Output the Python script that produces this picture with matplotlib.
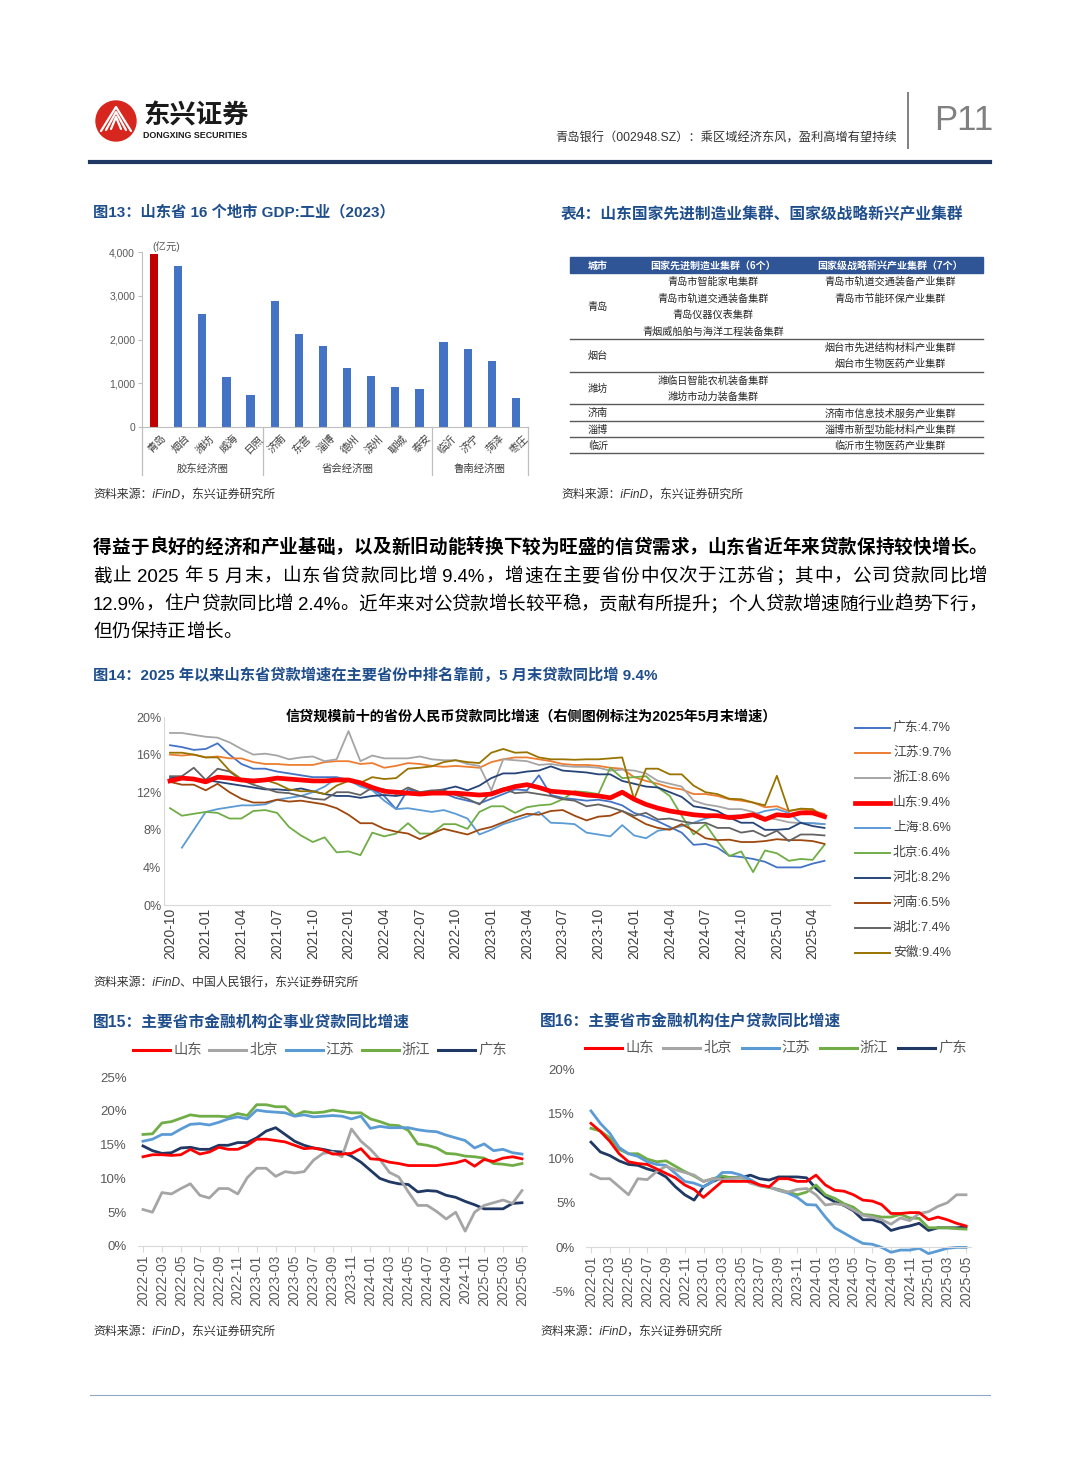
import numpy as np
import pandas as pd
import matplotlib
matplotlib.use('Agg')
import matplotlib.pyplot as plt
import matplotlib.transforms as mtrans
from matplotlib.font_manager import FontProperties
from matplotlib.patches import Rectangle, Circle, Polygon

plt.rcParams['font.family'] = ['Liberation Sans', 'Noto Sans CJK SC', 'DejaVu Sans']

nan = np.nan
# ---------------- Fig13 data ----------------
cities13 = ['青岛', '烟台', '潍坊', '威海', '日照', '济南', '东营', '淄博', '德州', '滨州', '聊城', '泰安',
            '临沂', '济宁', '菏泽', '枣庄']
gdp_industry = [3950, 3680, 2580, 1150, 740, 2880, 2130, 1850, 1360, 1160, 920, 870, 1950, 1780, 1500, 660]
groups13 = ['胶东经济圈', '省会经济圈', '鲁南经济圈']
group_sizes = [5, 7, 4]

# ---------------- Table 4 data ----------------
table_cols = ['城市', '国家先进制造业集群（6个）', '国家级战略新兴产业集群（7个）']
table_cities = ['青岛', '烟台', '潍坊', '济南', '淄博', '临沂']
table_mfg = [['青岛市智能家电集群', '青岛市轨道交通装备集群', '青岛仪器仪表集群', '青烟威船舶与海洋工程装备集群'],
             [], ['潍临日智能农机装备集群', '潍坊市动力装备集群'], [], [], []]
table_new = [['青岛市轨道交通装备产业集群', '青岛市节能环保产业集群'],
             ['烟台市先进结构材料产业集群', '烟台市生物医药产业集群'], [],
             ['济南市信息技术服务产业集群'], ['淄博市新型功能材料产业集群'], ['临沂市生物医药产业集群']]

# ---------------- Fig14 data (2020-10 .. 2025-05) ----------------
names14 = ['广东', '江苏', '浙江', '山东', '上海', '北京', '河北', '河南', '湖北', '安徽']
colors14 = ['#4472C4', '#ED7D31', '#A5A5A5', '#FF0000', '#5B9BD5', '#70AD47', '#264478', '#9E480E', '#636363', '#997300']
guangdong14 = [17.0, 16.8, 16.5, 16.6, 17.2, 16.0, 15.0, 14.5, 14.5, 14.2, 14.0, 13.8, 13.6, 13.6, 13.6, 13.3, 12.8, 12.3,
               11.6, 10.2, 12.3, 12.0, 11.9, 11.9, 11.4, 11.1, 10.8, 11.3, 11.8, 12.3, 12.2, 13.8, 11.7, 11.4, 11.25, 11.1,
               11.2, 11.0, 10.6, 9.8, 9.4, 8.9, 8.3, 7.7, 6.4, 6.5, 6.1, 5.25, 5.1, 4.9, 4.6, 4.0, 4.0, 4.0, 4.4, 4.7]
jiangsu14 = [16.0, 15.9, 16.0, 15.7, 15.8, 15.6, 15.6, 15.2, 15.0, 15.0, 14.9, 14.9, 14.9, 15.2, 15.3, 15.3, 15.0, 15.1,
             14.6, 14.8, 15.1, 15.0, 14.8, 14.7, 14.8, 14.7, 14.6, 15.2, 15.5, 15.7, 15.7, 15.5, 15.3, 15.0, 14.9, 14.9,
             14.8, 14.6, 14.5, 13.6, 13.2, 12.9, 12.5, 12.3, 11.8, 11.8, 11.6, 11.25, 11.1, 10.9, 10.4, 10.5, 10.0, 10.2,
             10.0, 9.7]
zhejiang14 = [18.3, 18.3, 18.1, 17.9, 17.8, 17.3, 16.6, 16.0, 16.1, 15.9, 15.5, 15.7, 15.8, 15.3, 15.5, 18.5, 15.3, 15.9,
              15.6, 15.6, 15.6, 15.8, 15.5, 15.4, 15.4, 15.0, 14.8, 12.2, 15.5, 15.4, 15.3, 14.9, 15.0, 14.8, 14.7, 14.7,
              14.6, 14.3, 14.4, 14.3, 14.0, 13.2, 12.9, 12.6, 11.1, 10.7, 10.5, 10.2, 10.2, 9.9, 9.3, 9.1, 8.8, 8.7, 8.7,
              8.6]
shandong14 = [13.2, 13.5, 13.4, 13.1, 13.6, 13.5, 13.3, 13.2, 13.3, 13.5, 13.4, 13.3, 13.2, 13.2, 13.3, 13.3, 13.0, 12.5,
              12.1, 12.0, 11.9, 11.8, 11.9, 11.9, 11.9, 11.8, 11.7, 11.8, 12.25, 12.6, 12.8, 12.5, 12.1, 12.0, 11.9, 11.7,
              11.6, 11.4, 12.0, 11.25, 10.7, 10.3, 10.0, 9.8, 9.6, 9.5, 9.5, 9.3, 9.4, 9.6, 9.1, 9.6, 9.5, 9.8, 9.8, 9.4]
shanghai14 = [nan, 6.1, 8.0, 9.9, 10.2, 10.4, 10.6, 10.6, 10.7, 11.2, 11.4, 11.6, 12.0, 12.6, 13.5, 13.3, 12.6, 12.2, 11.1,
              10.2, 10.3, 10.1, 9.9, 10.1, 9.7, 9.2, 7.5, 8.0, 8.6, 9.0, 9.4, 9.9, 8.75, 8.7, 8.6, 7.7, 7.5, 7.3, 8.5, 7.4,
              7.1, 7.9, 8.1, 8.4, 8.75, 9.2, 9.5, 9.5, 9.5, 9.6, 10.0, 10.2, 9.8, 8.75, 8.7, 8.6]
beijing14 = [10.3, 9.5, 9.7, 9.9, 9.8, 9.2, 9.2, 10.0, 10.1, 9.8, 8.3, 7.4, 6.7, 7.2, 5.6, 5.7, 5.3, 7.7, 7.3, 7.6, 8.7,
             7.6, 7.6, 8.6, 8.6, 8.1, 9.9, 10.5, 10.5, 9.8, 10.4, 10.6, 10.7, 11.25, 12.1, 12.0, 11.8, 14.6, 13.5, 13.6,
             13.7, 12.5, 11.6, 9.5, 7.5, 8.6, 6.8, 5.2, 5.7, 3.5, 5.8, 5.5, 4.7, 4.9, 4.8, 6.4]
hebei14 = [13.5, 13.6, 13.4, 13.3, 13.1, 12.9, 12.7, 12.5, 12.3, 12.3, 12.2, 12.4, 12.1, 11.8, 11.6, 11.6, 11.4, 11.6, 11.7,
           11.6, 11.8, 11.9, 12.1, 12.3, 12.6, 12.2, 12.7, 13.5, 14.0, 14.0, 14.2, 14.3, 14.75, 14.3, 14.2, 14.1, 13.9,
           13.9, 13.2, 12.9, 12.6, 12.5, 12.0, 11.5, 10.5, 10.3, 10.0, 9.3, 8.75, 8.75, 8.0, 8.0, 8.1, 8.75, 8.4, 8.2]
henan14 = [13.1, 12.8, 12.8, 12.2, 12.9, 12.0, 11.3, 10.9, 10.9, 11.2, 11.0, 11.1, 10.9, 10.7, 10.3, 9.6, 8.7, 8.7, 8.1,
           7.8, 7.6, 7.0, 7.6, 8.1, 7.8, 7.5, 8.0, 8.3, 8.8, 9.3, 9.7, 9.6, 10.0, 10.1, 9.5, 9.0, 9.4, 9.5, 10.0, 9.3,
           8.6, 8.2, 8.0, 8.6, 7.9, 7.1, 6.9, 6.95, 6.7, 6.7, 6.8, 7.0, 6.9, 6.9, 6.8, 6.5]
hubei14 = [13.7, 13.7, 14.6, 13.3, 14.5, 14.2, 13.3, 12.8, 12.4, 12.0, 11.9, 11.6, 11.3, 11.2, 12.0, 12.0, 11.7, 12.5,
           12.3, 11.8, 12.5, 12.0, 12.2, 12.2, 11.7, 11.3, 10.7, 12.0, 12.4, 11.9, 12.0, 11.8, 11.6, 11.25, 11.1, 10.5,
           10.7, 10.4, 10.0, 9.5, 9.8, 9.1, 9.2, 8.9, 8.7, 8.75, 8.2, 8.2, 7.7, 7.9, 7.3, 7.9, 6.8, 7.5, 7.5, 7.4]
anhui14 = [16.2, 16.2, 16.0, 15.7, 15.7, 14.3, 13.4, 13.0, 13.3, 12.9, 12.3, 12.1, 12.1, 11.8, 12.7, 13.2, 13.0, 13.6,
           13.4, 13.5, 14.5, 14.6, 14.75, 15.2, 15.4, 15.2, 15.1, 16.2, 16.6, 16.2, 16.25, 15.7, 15.5, 15.5, 15.45, 15.5,
           15.5, 15.6, 15.7, 11.25, 14.5, 14.5, 13.9, 13.9, 12.7, 12.0, 11.8, 11.3, 11.25, 10.9, 10.6, 13.75, 10.0,
           10.25, 10.2, 9.4]
series14 = [guangdong14, jiangsu14, zhejiang14, shandong14, shanghai14, beijing14, hebei14, henan14, hubei14, anhui14]
months14 = pd.period_range('2020-10', '2025-05', freq='M').strftime('%Y-%m').tolist()

# ---------------- Fig15 / Fig16 data (2022-01 .. 2025-05) ----------------
names5 = ['山东', '北京', '江苏', '浙江', '广东']
colors5 = ['#FF0000', '#A5A5A5', '#5B9BD5', '#70AD47', '#1F3864']
months5 = pd.period_range('2022-01', '2025-05', freq='M').strftime('%Y-%m').tolist()
shandong15 = [13.2, 13.5, 13.5, 13.4, 13.5, 14.3, 13.6, 13.9, 14.6, 14.3, 14.3, 14.9, 15.8, 15.8, 15.6, 15.4, 14.9, 14.4,
              14.5, 14.2, 13.6, 13.6, 13.7, 14.4, 12.9, 12.8, 12.4, 12.2, 11.9, 11.9, 11.9, 11.9, 12.1, 12.3, 12.7,
              11.8, 12.8, 12.5, 13.0, 13.2, 12.9]
beijing15 = [5.4, 5.0, 7.9, 7.7, 8.5, 9.2, 7.5, 7.1, 8.5, 8.5, 7.7, 10.1, 11.5, 11.5, 10.3, 11.0, 10.8, 11.0, 12.7, 13.7,
             13.9, 13.2, 17.3, 15.5, 14.3, 12.8, 10.9, 10.2, 8.0, 6.0, 6.0, 5.1, 4.0, 5.0, 2.2, 5.0, 6.0, 6.4, 6.8, 6.3,
             8.2]
jiangsu15 = [15.5, 15.8, 16.5, 16.5, 17.3, 18.0, 18.1, 17.9, 18.3, 18.8, 19.1, 18.8, 20.1, 19.9, 19.8, 19.7, 19.2, 19.4,
             19.1, 19.2, 19.3, 19.2, 18.8, 19.2, 17.4, 17.7, 17.5, 17.5, 17.5, 17.2, 17.0, 16.9, 16.4, 16.0, 15.6, 14.5,
             15.1, 14.1, 14.3, 13.8, 13.6]
zhejiang15 = [16.5, 16.6, 18.2, 18.4, 18.9, 19.4, 19.2, 19.2, 19.2, 19.1, 19.6, 19.3, 20.9, 20.9, 20.6, 20.6, 19.3, 19.9,
              19.7, 19.8, 20.1, 19.9, 19.7, 19.7, 18.8, 18.4, 17.9, 17.8, 17.1, 15.1, 14.9, 14.5, 13.7, 13.6, 13.3, 13.2,
              13.0, 12.2, 12.1, 11.9, 12.2]
guangdong15 = [14.8, 14.1, 13.7, 13.8, 14.5, 14.6, 14.3, 14.3, 14.9, 14.9, 15.3, 15.3, 16.0, 17.0, 17.5, 16.5, 15.5, 14.9,
               14.5, 14.3, 14.0, 13.9, 13.3, 12.4, 11.2, 10.0, 9.5, 9.2, 9.1, 8.0, 8.2, 8.1, 7.5, 7.2, 6.6, 6.1, 5.5, 5.5,
               5.5, 6.3, 6.4]
series15 = [shandong15, beijing15, jiangsu15, zhejiang15, guangdong15]

shandong16 = [13.9, 13.0, 11.9, 10.5, 9.6, 9.4, 9.3, 8.8, 8.3, 7.8, 7.0, 6.5, 5.6, 6.5, 7.4, 7.4, 7.4, 7.4, 7.0, 6.8, 7.7,
              7.7, 7.4, 7.4, 8.1, 7.0, 6.4, 6.3, 5.9, 5.3, 5.2, 4.8, 3.8, 3.8, 3.9, 3.9, 3.1, 3.4, 3.1, 2.7, 2.4]
beijing16 = [8.2, 7.7, 7.7, 6.8, 5.9, 7.7, 7.6, 8.5, 9.1, 8.7, 8.4, 8.1, 7.4, 7.7, 7.6, 7.7, 7.8, 7.2, 6.9, 6.8, 6.4, 6.2,
             6.5, 6.6, 5.9, 4.75, 4.9, 4.75, 4.2, 3.6, 3.4, 3.1, 2.6, 3.3, 3.0, 3.8, 4.0, 4.6, 5.0, 5.9, 5.9]
jiangsu16 = [15.3, 13.9, 12.8, 11.2, 10.5, 10.2, 9.6, 9.3, 9.2, 8.3, 7.4, 7.2, 6.8, 7.4, 8.4, 8.4, 8.1, 7.6, 7.0, 6.8, 6.4,
             6.1, 5.6, 4.8, 4.75, 3.4, 2.2, 1.6, 1.0, 0.45, 0.35, 0.0, -0.55, -0.3, -0.3, -0.1, -0.7, -0.4, -0.1, 0.0,
             0.0]
zhejiang16 = [13.35, 13.05, 12.3, 11.0, 10.5, 10.5, 9.9, 9.6, 9.7, 9.1, 8.5, 8.0, 7.4, 7.7, 8.0, 7.8, 7.8, 7.4, 6.9, 6.7,
              6.5, 6.2, 5.9, 6.2, 7.0, 5.9, 5.5, 4.9, 4.5, 3.7, 3.6, 3.4, 3.4, 3.7, 3.3, 3.25, 2.2, 2.2, 2.2, 2.1, 2.05]
guangdong16 = [11.8, 10.7, 10.3, 9.7, 9.3, 9.2, 8.8, 8.5, 7.9, 6.8, 5.9, 5.3, 6.8, 7.4, 7.8, 7.8, 7.8, 8.1, 7.7, 7.55,
               7.9, 7.9, 7.9, 7.8, 6.6, 5.7, 5.1, 4.7, 4.1, 3.1, 3.1, 2.8, 1.9, 2.2, 2.4, 2.7, 1.9, 2.2, 2.2, 2.2, 2.3]
series16 = [shandong16, beijing16, jiangsu16, zhejiang16, guangdong16]

# ---------------- text ----------------
header_sub = '青岛银行（002948.SZ）：乘区域经济东风，盈利高增有望持续'
page_no = 'P11'
title13 = '图13：山东省 16 个地市 GDP:工业（2023）'
title_t4 = '表4：山东国家先进制造业集群、国家级战略新兴产业集群'
title14 = '图14：2025 年以来山东省贷款增速在主要省份中排名靠前，5 月末贷款同比增 9.4%'
inner14 = '信贷规模前十的省份人民币贷款同比增速（右侧图例标注为2025年5月末增速）'
title15 = '图15：主要省市金融机构企事业贷款同比增速'
title16 = '图16：主要省市金融机构住户贷款同比增速'
src = '资料来源：iFinD，东兴证券研究所'
src14 = '资料来源：iFinD、中国人民银行，东兴证券研究所'
para = ['得益于良好的经济和产业基础，以及新旧动能转换下较为旺盛的信贷需求，山东省近年来贷款保持较快增长。',
        '截止 2025 年 5 月末，山东省贷款同比增 9.4%，增速在主要省份中仅次于江苏省；其中，公司贷款同比增',
        '12.9%，住户贷款同比增 2.4%。近年来对公贷款增长较平稳，贡献有所提升；个人贷款增速随行业趋势下行，',
        '但仍保持正增长。']

BLUE = '#1F4E8C'
GRAY = '#595959'

W, H = 1080, 1466
fig = plt.figure(figsize=(W / 100, H / 100), dpi=100)


def rect(x0, y0, x1, y1):
    return [x0 / W, 1 - y1 / H, (x1 - x0) / W, (y1 - y0) / H]


ov = fig.add_axes([0, 0, 1, 1])
ov.set_xlim(0, W)
ov.set_ylim(H, 0)
ov.axis('off')


def T(x, y, s, size=9, color='black', weight='normal', ha='left', va='center', **kw):
    return ov.text(x, y, s, fontsize=size, color=color, fontweight=weight, ha=ha, va=va, **kw)


# ---------------- header ----------------
ov.add_patch(Circle((116, 121), 20, color='#D7261E'))
for k in range(3):
    off = k * 5
    ov.plot([101 + off, 116, 131 - off], [131 - off * 0.2, 107 + off, 131 - off * 0.2], color='white', lw=1.6,
            solid_capstyle='round')
T(143, 116, '东兴证券', size=19, weight='heavy', color='#1a1a1a')
T(143, 135, 'DONGXING SECURITIES', size=6.4, weight='bold', color='#1a1a1a')
T(897, 138, header_sub, size=8.8, color='#333333', ha='right')
ov.plot([908, 908], [93, 148], color='#808080', lw=1.4)
T(934, 121, page_no, size=25, color='#808080')
ov.plot([90, 990], [162, 162], color='#1F3864', lw=3)
ov.plot([90, 990], [1395, 1395], color='#8EA9C1', lw=0.8)

# ---------------- titles ----------------
T(93, 212, title13, size=11, weight='bold', color=BLUE)
T(561, 214, title_t4, size=11.3, weight='bold', color=BLUE)
T(93, 675, title14, size=11, weight='bold', color=BLUE)
T(93, 1022, title15, size=11.3, weight='bold', color=BLUE)
T(540, 1022, title16, size=11.3, weight='bold', color=BLUE)
for (x, y, s) in [(93, 495, src), (561, 495, src), (93, 984, src14), (93, 1332, src), (540, 1332, src)]:
    T(x, y, s, size=8.6, color='#333333', style='italic')

# ---------------- paragraph (justified) ----------------
renderer = fig.canvas.get_renderer()


def justify(y, s, x0, x1, size, weight='normal', just=True):
    fp = FontProperties(family=plt.rcParams['font.family'], size=size, weight=weight)
    tokens = []
    for ch in s:
        if ord(ch) < 128 and tokens and all(ord(c) < 128 for c in tokens[-1]):
            tokens[-1] += ch
        else:
            tokens.append(ch)
    widths = [renderer.get_text_width_height_descent(t, fp, ismath=False)[0] for t in tokens]
    gap = (x1 - x0 - sum(widths)) / (len(tokens) - 1) if just else 0
    x = x0
    for t, w in zip(tokens, widths):
        ov.text(x, y, t, fontproperties=fp, ha='left', va='center', color='black')
        x += w + gap


ys = [548, 577, 605, 632]
justify(ys[0], para[0], 93, 987, 13.4, weight='bold')
justify(ys[1], para[1], 93, 987, 13.4)
justify(ys[2], para[2], 93, 987, 13.4)
justify(ys[3], para[3], 93, 987, 13.4, just=False)

# ---------------- Fig13 bar chart ----------------
ax13 = fig.add_axes(rect(142, 252, 528, 427))
ax13.set_facecolor('none')
x13 = np.arange(len(cities13))
bar_colors = ['#C00000'] + ['#4472C4'] * (len(cities13) - 1)
ax13.bar(x13, gdp_industry, width=0.34, color=bar_colors)
ax13.set_xlim(-0.5, len(cities13) - 0.5)
ax13.set_ylim(0, 4000)
ax13.set_yticks([0, 1000, 2000, 3000, 4000])
ax13.set_yticklabels([f'{v:,}' for v in [0, 1000, 2000, 3000, 4000]], fontsize=7.5, color=GRAY)
ax13.tick_params(axis='y', length=3, color='#BFBFBF', pad=2)
ax13.set_xticks([])
for s in ['top', 'right']:
    ax13.spines[s].set_visible(False)
for s in ['left', 'bottom']:
    ax13.spines[s].set_color('#BFBFBF')
blend = mtrans.blended_transform_factory(ax13.transData, ax13.transAxes)
for i, c in enumerate(cities13):
    ax13.text(i + 0.28, -0.035, c, rotation=45, ha='right', va='top', rotation_mode='anchor', transform=blend,
              fontsize=7.6, color='#404040')
bounds = np.concatenate([[0], np.cumsum(group_sizes)]) - 0.5
for b in bounds:
    ax13.plot([b, b], [0, -0.275], transform=blend, color='#BFBFBF', lw=0.9, clip_on=False)
for g, a, b in zip(groups13, bounds[:-1], bounds[1:]):
    ax13.text((a + b) / 2, -0.24, g, transform=blend, ha='center', va='center', fontsize=7.5, color='#404040')
T(152, 247, '(亿元)', size=7.5, color=GRAY)

# ---------------- Table 4 ----------------
ov.add_patch(Rectangle((570, 257), 413, 16, color='#2F5597'))
col_x = [598, 713, 890]
for cx, name in zip(col_x, table_cols):
    T(cx, 265.5, name, size=7.2, weight='bold', color='white', ha='center')
y = 273
for city, mf, nw in zip(table_cities, table_mfg, table_new):
    n = max(len(mf), len(nw), 1)
    first = y + 9
    for k, s in enumerate(mf):
        T(col_x[1], first + 16.5 * k, s, size=7.3, color='#262626', ha='center')
    for k, s in enumerate(nw):
        T(col_x[2], first + 16.5 * k, s, size=7.3, color='#262626', ha='center')
    T(col_x[0], first + 16.5 * (n - 1) / 2, city, size=7.3, color='#262626', ha='center')
    y = first + 16.5 * (n - 1) + 7.3
    ov.plot([570, 983], [y, y], color='#595959', lw=1.0)

# ---------------- Fig14 ----------------
step14 = 11.9
x0_14 = 170
ax14 = fig.add_axes(rect(x0_14 - 0.5 * step14, 717, x0_14 + 55.5 * step14, 905))
ax14.set_facecolor('none')
xi = np.arange(len(months14))
for name, col, data in zip(names14, colors14, series14):
    is_sd = name == '山东'
    ax14.plot(xi, data, color=col, lw=3.4 if is_sd else 1.3, zorder=5 if is_sd else 2, solid_joinstyle='round')
ax14.set_xlim(-0.5, len(months14) - 0.5)
ax14.set_ylim(0, 20)
ax14.set_yticks([0, 4, 8, 12, 16, 20])
ax14.set_yticklabels([f'{v}%' for v in [0, 4, 8, 12, 16, 20]], fontsize=9, color=GRAY)
ax14.set_xticks(xi[::3])
ax14.set_xticklabels(months14[::3], rotation=90, fontsize=10, color='#404040')
ax14.tick_params(length=0, pad=2)
for s in ['top', 'right']:
    ax14.spines[s].set_visible(False)
for s in ['left', 'bottom']:
    ax14.spines[s].set_color('#D9D9D9')
T(531, 717, inner14, size=10.2, weight='bold', color='black', ha='center')
for k, (name, col, data) in enumerate(zip(names14, colors14, series14)):
    yy = 728 + 25 * k
    ov.plot([855, 890], [yy, yy], color=col, lw=3.4 if name == '山东' else 1.4)
    T(893, yy, f'{name}:{data[-1]:.1f}%', size=9.2, color='#404040')


# ---------------- Fig15 & Fig16 ----------------
def small_chart(r, series, ylim, yticks, leg_x0, leg_step, leg_y):
    ax = fig.add_axes(r)
    ax.set_facecolor('none')
    for s in ['top', 'right', 'left']:
        ax.spines[s].set_visible(False)
    ax.spines['bottom'].set_position(('data', 0))
    ax.spines['bottom'].set_color('#D9D9D9')
    xi = np.arange(len(months5))
    for name, col, data in zip(names5[::-1], colors5[::-1], series[::-1]):
        ax.plot(xi, data, color=col, lw=2.0, solid_joinstyle='round')
    ax.set_xlim(-0.5, len(months5) - 0.5)
    ax.set_ylim(*ylim)
    ax.set_yticks(yticks)
    ax.set_yticklabels([f'{v}%' for v in yticks])
    ax.tick_params(axis='y', length=0, pad=8, labelsize=9.5, labelcolor=GRAY)
    ax.set_xticks(xi[::2])
    ax.set_xticklabels(months5[::2])
    ax.tick_params(axis='x', length=4, color='#D9D9D9', pad=2, labelrotation=90, labelsize=10, labelcolor=GRAY)
    for k, (name, col) in enumerate(zip(names5, colors5)):
        lx = leg_x0 + leg_step * k
        ov.plot([lx, lx + 37], [leg_y, leg_y], color=col, lw=2.2)
        T(lx + 40, leg_y, name, size=10.3, color=GRAY)
    return ax


step15 = (522 - 143) / 40
small_chart(rect(143 - 0.5 * step15, 1077, 522 + 0.5 * step15, 1246), series15, (0, 25), [0, 5, 10, 15, 20, 25],
            133, 76.3, 1050)
step16 = (966 - 591) / 40
small_chart(rect(591 - 0.5 * step16, 1069, 966 + 0.5 * step16, 1292), series16, (-5, 20), [-5, 0, 5, 10, 15, 20],
            585, 78.3, 1048)

fig.savefig('out.png', dpi=100)
